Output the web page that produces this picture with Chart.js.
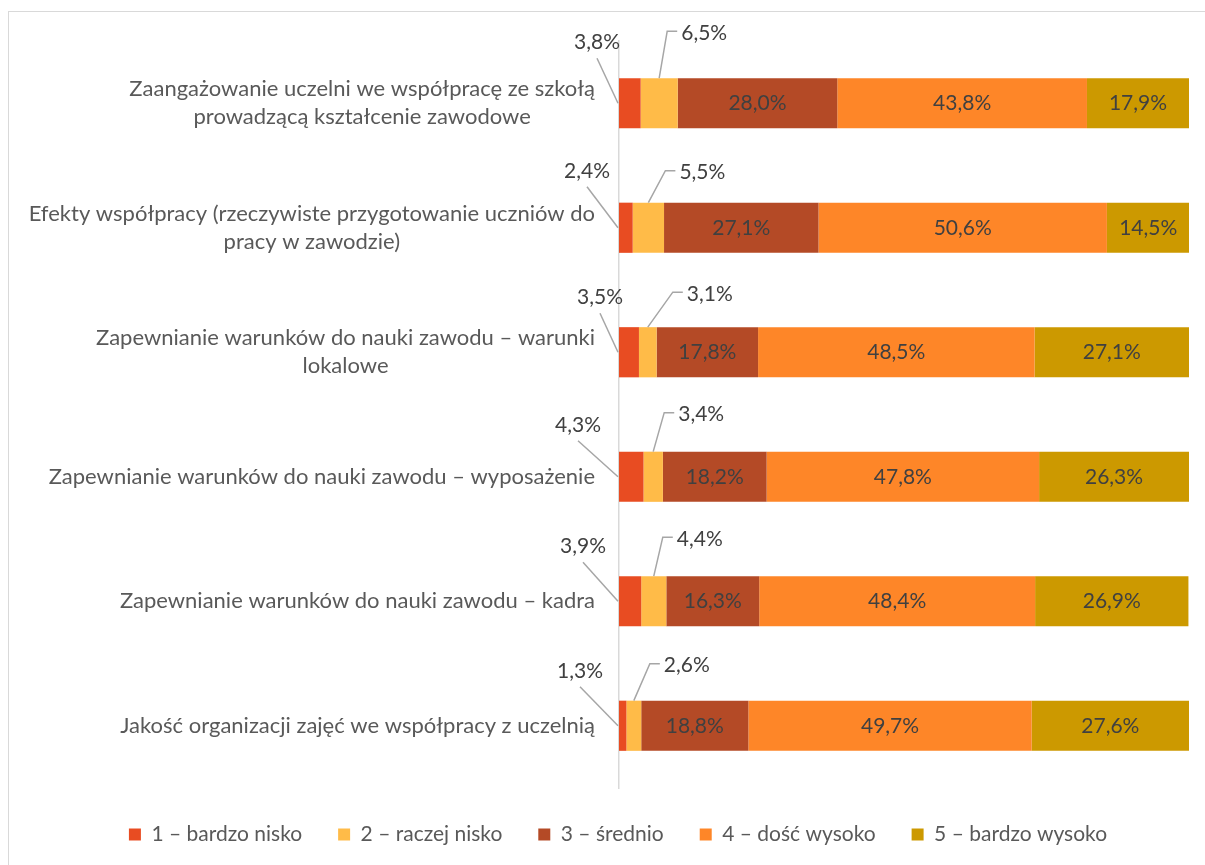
<!DOCTYPE html>
<html>
<head>
<meta charset="utf-8">
<script src="https://cdn.jsdelivr.net/npm/chart.js@4.4.0/dist/chart.umd.min.js"></script>
<style>
  html, body { margin: 0; padding: 0; background: #fff; overflow: hidden; width: 1205px; height: 865px; }
  #frame { position: absolute; left: 8px; top: 11px; width: 1260px; height: 900px; border: 1px solid #D9D9D9; pointer-events: none; }
  #chart { position: absolute; left: 0; top: 0; }
</style>
</head>
<body>
<div id="frame"></div>
<canvas id="chart" width="1236" height="865"></canvas>
<script>
// **********************************************
// Data

const categories = [
    ['Zaangażowanie uczelni we współpracę ze szkołą', 'prowadzącą kształcenie zawodowe'],
    ['Efekty współpracy (rzeczywiste przygotowanie uczniów do', 'pracy w zawodzie)'],
    ['Zapewnianie warunków do nauki zawodu – warunki', 'lokalowe'],
    ['Zapewnianie warunków do nauki zawodu – wyposażenie'],
    ['Zapewnianie warunków do nauki zawodu – kadra'],
    ['Jakość organizacji zajęć we współpracy z uczelnią']
];
const seriesNames = ['1 – bardzo nisko', '2 – raczej nisko', '3 – średnio', '4 – dość wysoko', '5 – bardzo wysoko'];
const veryLow    = [3.8, 2.4, 3.5, 4.3, 3.9, 1.3];
const ratherLow  = [6.5, 5.5, 3.1, 3.4, 4.4, 2.6];
const medium     = [28.0, 27.1, 17.8, 18.2, 16.3, 18.8];
const fairlyHigh = [43.8, 50.6, 48.5, 47.8, 48.4, 49.7];
const veryHigh   = [17.9, 14.5, 27.1, 26.3, 26.9, 27.6];

const seriesColors = ['#E84C22', '#FFBB48', '#B44A26', '#FE8628', '#CC9900'];

// where the small-value labels sit (callouts), relative to their bar
const lowCallouts  = [[-22, -61], [-32, -57], [-19, -55], [-41, -52], [-36, -55], [-39, -55]];
const rlowCallouts = [[45, -45], [54, -30], [62, -33], [48, -37], [46, -37], [53, -35]];

const FONT = 'Lato, "Open Sans", sans-serif';
const FONT_SIZE = 21;
const CAT_FONT_SIZE = 22;

function fmt(v) {
    return v.toFixed(1).replace('.', ',') + '%';
}


// **********************************************
// Plugins

// category labels: block right-aligned to the axis, lines centred inside the block
const categoryLabels = {
    id: 'categoryLabels',
    afterDraw(chart) {
        const ctx = chart.ctx;
        const yScale = chart.scales.y;
        const right = chart.chartArea.left - 24;
        ctx.save();
        ctx.font = CAT_FONT_SIZE + 'px ' + FONT;
        ctx.fillStyle = '#595959';
        ctx.textAlign = 'center';
        ctx.textBaseline = 'middle';
        categories.forEach((lines, i) => {
            const y = yScale.getPixelForValue(i);
            const maxW = Math.max(...lines.map(l => ctx.measureText(l).width));
            const cx = right - maxW / 2;
            const lh = 28;
            const y0 = y - (lines.length - 1) * lh / 2;
            lines.forEach((l, j) => ctx.fillText(l, cx, y0 + j * lh));
        });
        ctx.restore();
    }
};

// value labels: inside for the big segments, callouts for the two small ones
const valueLabels = {
    id: 'valueLabels',
    afterDatasetsDraw(chart) {
        const ctx = chart.ctx;
        ctx.save();
        ctx.font = FONT_SIZE + 'px ' + FONT;
        ctx.textBaseline = 'middle';
        ctx.textAlign = 'center';

        // inside labels
        for (let d = 2; d < 5; d++) {
            const meta = chart.getDatasetMeta(d);
            meta.data.forEach((bar, i) => {
                const v = chart.data.datasets[d].data[i];
                const cx = (bar.x + bar.base) / 2;
                ctx.fillStyle = '#404040';
                ctx.fillText(fmt(v), cx, bar.y);
            });
        }

        ctx.strokeStyle = '#A6A6A6';
        ctx.lineWidth = 1.5;

        // series 1 callouts
        chart.getDatasetMeta(0).data.forEach((bar, i) => {
            const v = chart.data.datasets[0].data[i];
            const lx = bar.base + lowCallouts[i][0];
            const ly = bar.y + lowCallouts[i][1];
            ctx.beginPath();
            ctx.moveTo(lx, ly + 16);
            ctx.lineTo(bar.base - 1, bar.y);
            ctx.stroke();
            ctx.fillStyle = '#404040';
            ctx.fillText(fmt(v), lx, ly);
        });

        // series 2 callouts
        chart.getDatasetMeta(1).data.forEach((bar, i) => {
            const v = chart.data.datasets[1].data[i];
            const bx = (bar.x + bar.base) / 2;
            const top = bar.y - bar.height / 2;
            const lx = bx + rlowCallouts[i][0];
            const ly = top + rlowCallouts[i][1];
            const w = ctx.measureText(fmt(v)).width;
            const left = lx - w / 2;
            ctx.beginPath();
            ctx.moveTo(left - 4, ly - 2);
            ctx.lineTo(left - 14, ly - 2);
            ctx.lineTo(bx, top);
            ctx.stroke();
            ctx.fillStyle = '#404040';
            ctx.fillText(fmt(v), lx, ly);
        });
        ctx.restore();
    }
};


// **********************************************
// Chart

const ctx = document.getElementById('chart').getContext('2d');

const values = [veryLow, ratherLow, medium, fairlyHigh, veryHigh];

const data = {
    labels: categories,
    datasets: values.map((vals, k) => ({
        label: seriesNames[k],
        data: vals,
        backgroundColor: seriesColors[k],
        borderWidth: 0,
        categoryPercentage: 1,
        barPercentage: 0.403
    }))
};

const chart = new Chart(ctx, {
    type: 'bar',
    data: data,
    plugins: [categoryLabels, valueLabels],
    options: {
        indexAxis: 'y',
        responsive: false,
        animation: false,
        devicePixelRatio: 1,
        layout: {
            padding: { top: 41, bottom: 10, left: 0, right: 0 }
        },
        scales: {
            x: {
                stacked: true,
                min: 0,
                max: 100,
                display: false
            },
            y: {
                stacked: true,
                grid: { display: false },
                border: { display: true, color: '#D9D9D9', width: 1.5 },
                ticks: { display: false },
                afterFit(scale) { scale.width = 619; }
            },
            pad: {
                type: 'linear',
                position: 'right',
                grid: { display: false },
                border: { display: false },
                ticks: { display: false },
                afterFit(scale) { scale.width = 47; }
            }
        },
        plugins: {
            legend: {
                position: 'bottom',
                labels: {
                    boxWidth: 12,
                    boxHeight: 12,
                    padding: 36,
                    color: '#595959',
                    font: { family: FONT, size: FONT_SIZE }
                }
            },
            tooltip: { enabled: false },
            title: { display: false }
        }
    }
});
</script>
</body>
</html>
